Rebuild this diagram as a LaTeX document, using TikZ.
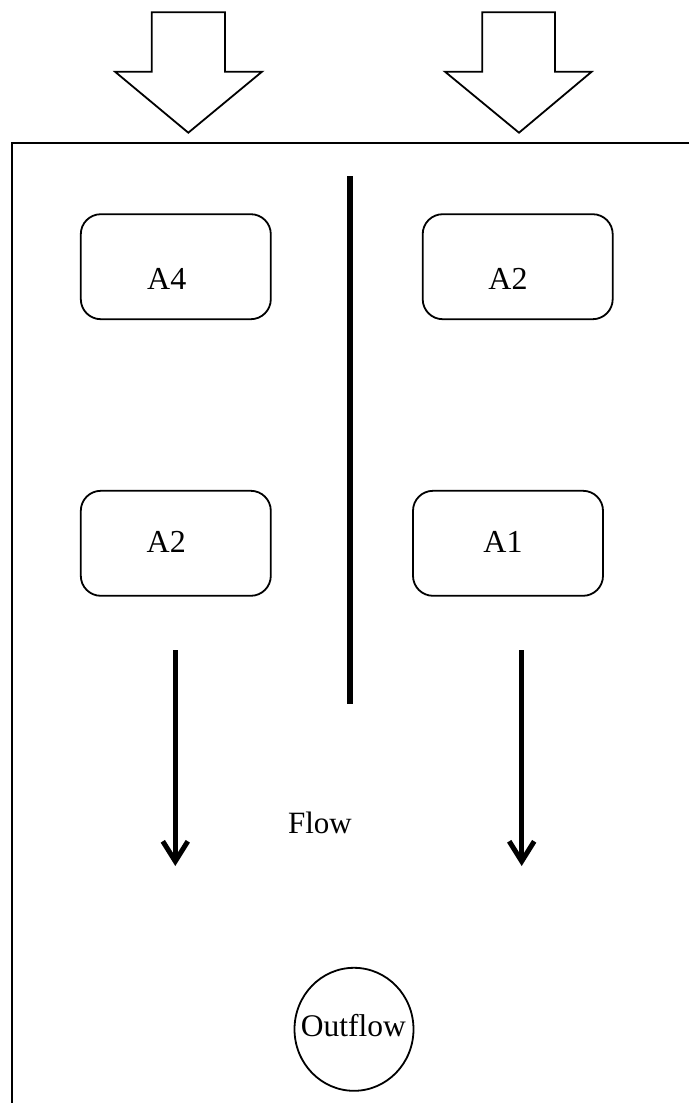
\documentclass[tikz,border=0pt]{standalone}
\usepackage{fontspec}
\setmainfont{Liberation Serif}
\usetikzlibrary{arrows.meta,shapes.geometric}
\tikzset{
  thinline/.style={line width=1.8pt, line join=miter},
  cell/.style={draw, line width=1.8pt, rounded corners=20pt, minimum width=190pt, minimum height=105pt, inner sep=0pt},
  celltext/.style={anchor=base, inner sep=0pt, font=\fontsize{32}{38}\selectfont},
  flowarrow/.style={line width=5.3pt, -{Straight Barb[length=20pt,width=25pt,line width=5pt]}},
  blockarrow/.style={line width=1.8pt, line join=miter, fill=white}
}
\begin{document}
\begin{tikzpicture}[x=1pt,y=-1pt]
\useasboundingbox (0,0) rectangle (689,1103);
% frame
\draw[thinline] (689,142.7) -- (11.7,142.7) -- (11.7,1103);
% block arrows
\draw[blockarrow] (151.7,12.3) -- (225,12.3) -- (225,71.7) -- (262,71.7) -- (188.3,132.7) -- (115,71.7) -- (151.7,71.7) -- cycle;
\draw[blockarrow] (482.3,12.3) -- (555,12.3) -- (555,71.7) -- (591.7,71.7) -- (519,132.7) -- (445,71.7) -- (482.3,71.7) -- cycle;
% divider
\coordinate (divtop) at (350,176);
\coordinate (divbot) at (350,704.3);
\draw[line width=5.5pt] (divtop) -- (divbot);
% boxes
\node[cell] (bA4) at (175.8,266.7) {};
\node[celltext] (tA4) at (166.7,289.3) {A4};
\node[cell] (bA2r) at (517.7,266.7) {};
\node[celltext] (tA2r) at (508,289.3) {A2};
\node[cell] (bA2l) at (175.8,543.3) {};
\node[celltext] (tA2l) at (166.2,552.7) {A2};
\node[cell] (bA1) at (508,543.3) {};
\node[celltext] (tA1) at (503,552.7) {A1};
% flow arrows
\coordinate (la1) at (175.3,650);
\coordinate (la2) at (175.3,866);
\coordinate (ra1) at (521.7,650);
\coordinate (ra2) at (521.7,866);
\draw[flowarrow] (la1) -- (la2);
\draw[flowarrow] (ra1) -- (ra2);
\node[anchor=base, inner sep=0pt, font=\fontsize{31}{37}\selectfont] (flow) at (320,833.3) {Flow};
% outflow
\node[draw, line width=1.8pt, ellipse, minimum width=119pt, minimum height=123pt, inner sep=0pt] (out) at (354,1029.3) {};
\node[anchor=base, inner sep=0pt, font=\fontsize{31.5}{37}\selectfont] (outt) at (353.3,1036.7) {Outflow};
\end{tikzpicture}
\end{document}
